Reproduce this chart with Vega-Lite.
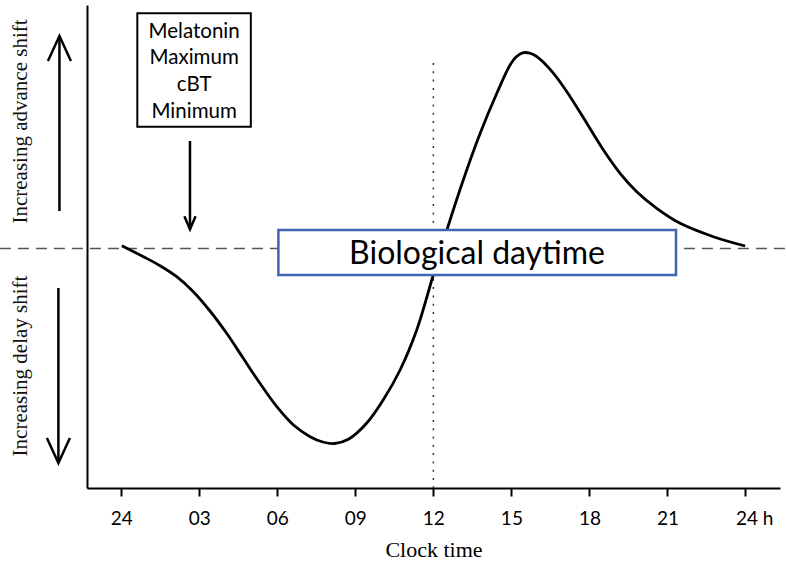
{
  "$schema": "https://vega.github.io/schema/vega-lite/v6.json",
  "autosize": {"type": "none"},
  "width": 693,
  "height": 483,
  "padding": {"left": 87, "top": 5, "right": 6, "bottom": 82},
  "background": "white",
  "config": {"view": {"stroke": null}},
  "datasets": {
    "curve": [
      {"hour": 0.02, "v": 2.3}, {"hour": 0.85, "v": -8.7}, {"hour": 1.49, "v": -17.7}, {"hour": 2.13, "v": -28.7},
      {"hour": 2.77, "v": -43.7}, {"hour": 3.41, "v": -63}, {"hour": 4.05, "v": -85.3}, {"hour": 4.69, "v": -110.3},
      {"hour": 5.33, "v": -135.3}, {"hour": 5.98, "v": -158.7}, {"hour": 6.62, "v": -177}, {"hour": 7.26, "v": -188.7},
      {"hour": 7.75, "v": -194}, {"hour": 8.2, "v": -195.5}, {"hour": 8.75, "v": -191}, {"hour": 9.44, "v": -175},
      {"hour": 10.07, "v": -152}, {"hour": 10.72, "v": -122}, {"hour": 11.36, "v": -82}, {"hour": 11.94, "v": -32},
      {"hour": 12.32, "v": 1}, {"hour": 12.52, "v": 18}, {"hour": 13.15, "v": 68}, {"hour": 13.8, "v": 114.7},
      {"hour": 14.44, "v": 154.7}, {"hour": 14.95, "v": 183}, {"hour": 15.2, "v": 191.5}, {"hour": 15.46, "v": 195.3},
      {"hour": 15.75, "v": 194.5}, {"hour": 15.98, "v": 191.3},
      {"hour": 16.62, "v": 174.7}, {"hour": 17.26, "v": 151.3}, {"hour": 17.9, "v": 124.7}, {"hour": 18.54, "v": 98},
      {"hour": 19.18, "v": 74.7}, {"hour": 19.82, "v": 56.3}, {"hour": 20.59, "v": 39.7}, {"hour": 21.49, "v": 24.7},
      {"hour": 22.77, "v": 11.3}, {"hour": 23.99, "v": 2}
    ],
    "baseline": [{"hour": -4.67, "hour2": 25.57, "v": -0.5}],
    "noon": [{"hour": 12, "v": 185, "v2": -240}],
    "bioBox": [{"hour": 6.04, "hour2": 21.33, "v": 18, "v2": -27}],
    "bioLabel": [{"hour": 13.68, "v": -5.5, "label": "Biological daytime"}],
    "melBox": [{"hour": 0.615, "hour2": 4.98, "v": 234.7, "v2": 121.3}],
    "melLabel": [{"hour": 2.8, "v": 216.3, "label": "Melatonin\nMaximum\ncBT\nMinimum"}],
    "arrows": [
      {"hour": -2.38, "v": 37, "v2": 212, "dir": "up", "head": "large"},
      {"hour": -2.42, "v": -40, "v2": -215, "dir": "down", "head": "large"},
      {"hour": 2.64, "v": 107, "v2": 18.7, "dir": "down", "head": "small"}
    ],
    "sideLabels": [
      {"hour": -3.86, "v": 126.5, "label": "Increasing advance shift"},
      {"hour": -3.86, "v": -118, "label": "Increasing delay shift"}
    ]
  },
  "encoding": {
    "x": {
      "field": "hour", "type": "quantitative",
      "scale": {"domain": [-1.32, 25.33], "nice": false, "zero": false},
      "axis": {
        "values": [0, 3, 6, 9, 12, 15, 18, 21, 24],
        "labelExpr": "datum.value == 0 ? '24' : datum.value == 24 ? '24 h' : (datum.value < 10 ? '0' + datum.value : '' + datum.value)",
        "labelAlign": {"condition": {"test": "datum.value == 24", "value": "left"}, "value": "center"},
        "labelOffset": {"condition": {"test": "datum.value == 24", "value": -10}, "value": 0},
        "labelFont": "Lato", "labelFontSize": 19, "labelColor": "black", "labelPadding": 13,
        "domainColor": "black", "domainWidth": 2,
        "tickColor": "black", "tickWidth": 2, "tickSize": 8,
        "grid": false,
        "title": "Clock time", "titleFont": "Liberation Serif", "titleFontSize": 22,
        "titleFontWeight": "normal", "titleColor": "black", "titlePadding": 11
      }
    },
    "y": {
      "field": "v", "type": "quantitative",
      "scale": {"domain": [-240, 243], "nice": false, "zero": false},
      "axis": {"ticks": false, "labels": false, "grid": false, "title": null, "domainColor": "black", "domainWidth": 2}
    }
  },
  "layer": [
    {
      "data": {"name": "baseline"},
      "mark": {"type": "rule", "strokeDash": [11, 7], "color": "#555555", "strokeWidth": 1.5},
      "encoding": {"x2": {"field": "hour2"}}
    },
    {
      "data": {"name": "noon"},
      "mark": {"type": "rule", "strokeDash": [2, 6.3], "color": "#333333", "strokeWidth": 1.5},
      "encoding": {"y2": {"field": "v2"}}
    },
    {
      "data": {"name": "curve"},
      "mark": {"type": "line", "interpolate": "catmull-rom", "color": "black", "strokeWidth": 2.8},
      "encoding": {}
    },
    {
      "data": {"name": "bioBox"},
      "mark": {"type": "rect", "fill": "white", "stroke": "#3d65b0", "strokeWidth": 2.5},
      "encoding": {"x2": {"field": "hour2"}, "y2": {"field": "v2"}}
    },
    {
      "data": {"name": "bioLabel"},
      "mark": {"type": "text", "font": "Lato", "fontSize": 32, "color": "black", "align": "center", "baseline": "middle"},
      "encoding": {"text": {"field": "label"}}
    },
    {
      "data": {"name": "melBox"},
      "mark": {"type": "rect", "fill": "white", "stroke": "black", "strokeWidth": 2},
      "encoding": {"x2": {"field": "hour2"}, "y2": {"field": "v2"}}
    },
    {
      "data": {"name": "melLabel"},
      "mark": {"type": "text", "font": "Lato", "fontSize": 20.5, "lineHeight": 26.7, "lineBreak": "\n", "color": "black", "align": "center", "baseline": "middle"},
      "encoding": {"text": {"field": "label"}}
    },
    {
      "data": {"name": "arrows"},
      "mark": {"type": "rule", "color": "black", "strokeWidth": 2.5},
      "encoding": {"y2": {"field": "v2"}}
    },
    {
      "data": {"name": "arrows"},
      "transform": [{"filter": "datum.head == 'large'"}],
      "mark": {"type": "point", "shape": "M-0.46,1L0,0L0.46,1", "filled": false, "size": 2500, "color": "black", "strokeWidth": 2.5, "opacity": 1},
      "encoding": {
        "y": {"field": "v2", "type": "quantitative"},
        "angle": {"field": "dir", "type": "nominal", "scale": {"domain": ["up", "down"], "range": [0, 180]}, "legend": null}
      }
    },
    {
      "data": {"name": "arrows"},
      "transform": [{"filter": "datum.head == 'small'"}],
      "mark": {"type": "point", "shape": "M-0.43,1L0,0L0.43,1", "filled": false, "size": 676, "color": "black", "strokeWidth": 2.5, "opacity": 1},
      "encoding": {
        "y": {"field": "v2", "type": "quantitative"},
        "angle": {"field": "dir", "type": "nominal", "scale": {"domain": ["up", "down"], "range": [0, 180]}, "legend": null}
      }
    },
    {
      "data": {"name": "sideLabels"},
      "mark": {"type": "text", "font": "Liberation Serif", "fontSize": 21, "angle": 270, "color": "#111111", "align": "center", "baseline": "middle"},
      "encoding": {"text": {"field": "label"}}
    }
  ]
}
